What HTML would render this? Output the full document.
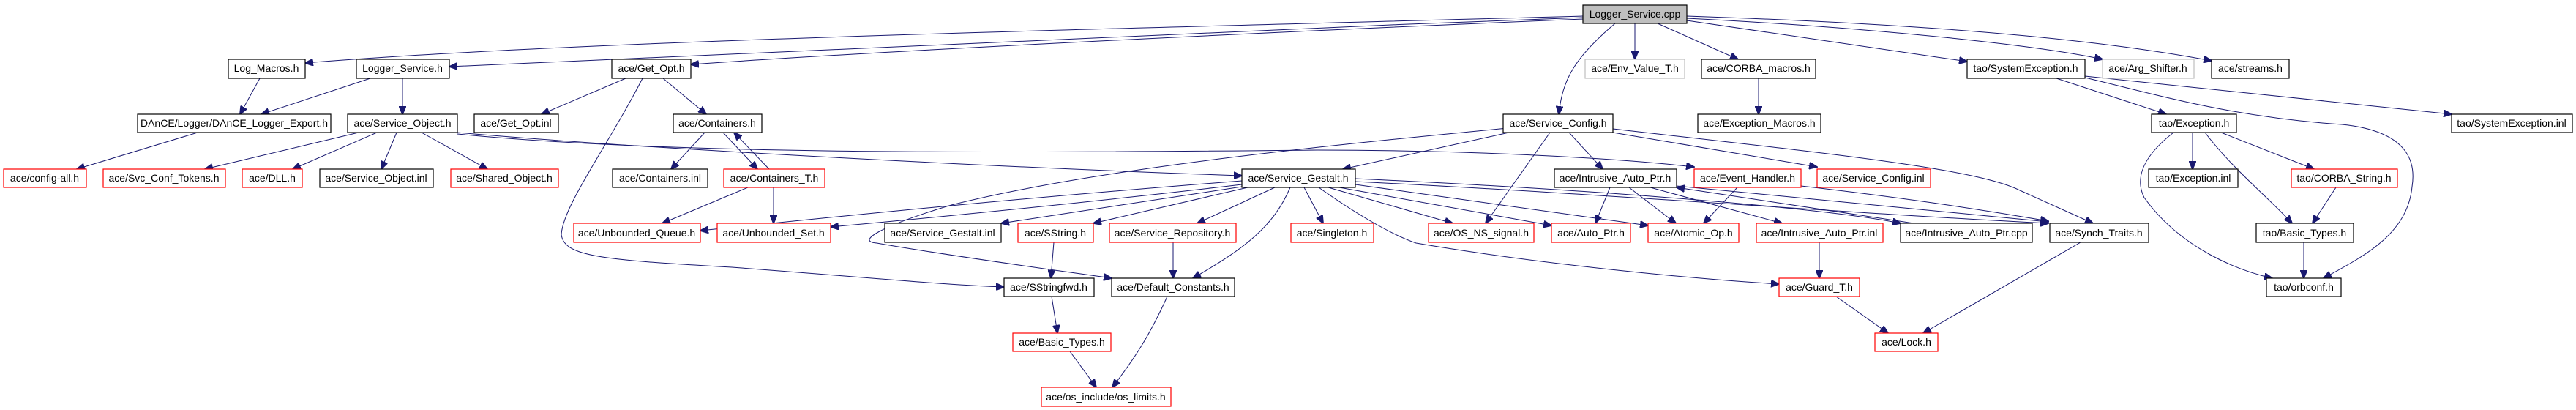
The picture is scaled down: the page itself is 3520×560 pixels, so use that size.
<!DOCTYPE html>
<html><head><meta charset="utf-8"><style>
html,body{margin:0;padding:0;background:#fff;}
svg{display:block;}
text{font-family:"Liberation Sans",sans-serif;font-size:14px;text-anchor:middle;fill:#000;}
rect{fill:#fff;stroke-width:1.2;}
.b{stroke:#000;} .r{stroke:#f00;} .g{stroke:#bfbfbf;}
path{fill:none;stroke:#191970;stroke-width:1;}
</style></head><body>
<svg width="3520" height="560" viewBox="0 0 3520 560" xmlns="http://www.w3.org/2000/svg">
<defs><marker id="a" markerUnits="userSpaceOnUse" markerWidth="12" markerHeight="10" refX="11" refY="5" orient="auto"><path d="M0,0 L12,5 L0,10 z" style="fill:#191970;stroke:#191970"/></marker></defs>
<g marker-end="url(#a)">
<!-- from cpp -->
<path d="M2163,22 C1500,40 800,55 417,86"/>
<path d="M2163,24 C1600,45 1000,70 614,91"/>
<path d="M2163,26 C1700,45 1200,70 944,88"/>
<path d="M2207,32 C2150,80 2135,110 2130,156"/>
<path d="M2234,32 L2234,81"/>
<path d="M2265,32 L2375,81"/>
<path d="M2305,28 L2688,84"/>
<path d="M2305,25 C2600,40 2800,65 2873,81"/>
<path d="M2305,22 C2700,35 2900,60 3022,83"/>
<!-- Log_Macros / Logger_Service -->
<path d="M355,107 L328,156"/>
<path d="M506,107 L357,156"/>
<path d="M550,107 L550,156"/>
<!-- Get_Opt -->
<path d="M855,107 L740,156"/>
<path d="M906,107 L965,156"/>
<path d="M878,107 C830,200 770,280 767,320 C770,350 820,355 1000,365 C1200,380 1300,390 1372,392"/>
<!-- DAnCE -->
<path d="M270,181 L105,231"/>
<!-- Service_Object -->
<path d="M490,181 L280,231"/>
<path d="M515,181 L400,231"/>
<path d="M542,181 L521,231"/>
<path d="M576,181 L666,231"/>
<path d="M625,181 C900,205 1400,230 1697,240"/>
<path d="M625,183 C900,210 1300,210 1800,205 C2000,205 2200,215 2315,228"/>
<!-- Containers -->
<path d="M963,181 L917,231"/>
<path d="M988,181 L1035,231"/>
<path d="M1051,231 L1003,181"/>
<path d="M1022,256 L905,305"/>
<path d="M1057,256 L1057,305"/>
<!-- Service_Config -->
<path d="M2060,175 C1800,200 1500,230 1300,280 C1200,310 1170,330 1198,332 C1300,350 1450,370 1519,380"/>
<path d="M2062,181 L1835,231"/>
<path d="M2118,181 L2030,305"/>
<path d="M2144,181 L2190,231"/>
<path d="M2204,181 L2483,228"/>
<path d="M2204,176 C2500,210 2700,230 2760,260 L2860,305"/>
<!-- Service_Gestalt -->
<path d="M1697,247 C1400,270 1200,290 957,315"/>
<path d="M1697,252 C1500,275 1300,295 1135,310"/>
<path d="M1697,255 L1368,305"/>
<path d="M1705,256 L1494,305"/>
<path d="M1742,256 L1636,305"/>
<path d="M1763,256 C1740,310 1700,340 1630,380"/>
<path d="M1782,256 L1808,305"/>
<path d="M1815,256 L1985,305"/>
<path d="M1830,256 L2120,308"/>
<path d="M1852,252 L2252,308"/>
<path d="M1802,256 C1850,290 1900,320 1935,332 C2100,360 2300,380 2431,388"/>
<path d="M1852,248 C2200,265 2500,290 2799,305"/>
<path d="M1852,244 C2200,260 2500,285 2597,305"/>
<!-- Intrusive_Auto_Ptr.h -->
<path d="M2200,256 L2180,305"/>
<path d="M2226,256 L2290,305"/>
<path d="M2255,256 L2435,305"/>
<path d="M2615,305 L2291,256"/>
<path d="M2291,254 L2799,303"/>
<path d="M2374,256 L2328,305"/>
<path d="M2461,254 C2600,270 2700,285 2799,302"/>
<!-- lower -->
<path d="M1603,331 L1603,380"/>
<path d="M1440,331 L1436,380"/>
<path d="M1437,405 L1445,455"/>
<path d="M1462,480 L1498,529"/>
<path d="M1595,405 C1570,460 1550,490 1520,529"/>
<path d="M2486,331 L2486,380"/>
<path d="M2509,405 L2580,455"/>
<path d="M2843,331 L2628,455"/>
<path d="M2403,107 L2403,156"/>
<!-- tao -->
<path d="M2810,107 L2960,156"/>
<path d="M2849,104 L3350,156"/>
<path d="M2849,106 C2950,130 3050,160 3200,170 C3300,180 3300,230 3296,255 C3290,320 3230,350 3175,380"/>
<path d="M2996,181 L2996,231"/>
<path d="M3035,181 L3162,231"/>
<path d="M3013,181 C3050,230 3100,270 3132,305"/>
<path d="M2970,181 C2920,220 2920,250 2930,270 C2980,340 3060,370 3105,380"/>
<path d="M3192,256 L3160,305"/>
<path d="M3148,331 L3148,380"/>
</g>
<!-- nodes -->
<rect x="2163" y="7" width="142" height="25" style="fill:#bfbfbf;stroke:#000"/><text x="2234" y="24">Logger_Service.cpp</text>
<rect class="b" x="312" y="81" width="105" height="26"/><text x="364" y="98">Log_Macros.h</text>
<rect class="b" x="487" y="81" width="127" height="26"/><text x="550" y="98">Logger_Service.h</text>
<rect class="b" x="836" y="81" width="108" height="26"/><text x="890" y="98">ace/Get_Opt.h</text>
<rect class="g" x="2166" y="81" width="136" height="26"/><text x="2234" y="98">ace/Env_Value_T.h</text>
<rect class="b" x="2325" y="81" width="156" height="26"/><text x="2403" y="98">ace/CORBA_macros.h</text>
<rect class="b" x="2688" y="81" width="161" height="26"/><text x="2768" y="98">tao/SystemException.h</text>
<rect class="g" x="2873" y="81" width="125" height="26"/><text x="2935" y="98">ace/Arg_Shifter.h</text>
<rect class="b" x="3022" y="81" width="106" height="26"/><text x="3075" y="98">ace/streams.h</text>

<rect class="b" x="188" y="156" width="264" height="25"/><text x="320" y="173">DAnCE/Logger/DAnCE_Logger_Export.h</text>
<rect class="b" x="475" y="156" width="150" height="25"/><text x="550" y="173">ace/Service_Object.h</text>
<rect class="b" x="648" y="156" width="115" height="25"/><text x="705" y="173">ace/Get_Opt.inl</text>
<rect class="b" x="920" y="156" width="121" height="25"/><text x="980" y="173">ace/Containers.h</text>
<rect class="b" x="2054" y="156" width="150" height="25"/><text x="2129" y="173">ace/Service_Config.h</text>
<rect class="b" x="2320" y="156" width="168" height="25"/><text x="2404" y="173">ace/Exception_Macros.h</text>
<rect class="b" x="2940" y="156" width="116" height="25"/><text x="2998" y="173">tao/Exception.h</text>
<rect class="b" x="3350" y="156" width="165" height="25"/><text x="3432" y="173">tao/SystemException.inl</text>

<rect class="r" x="5" y="231" width="113" height="25"/><text x="61" y="248">ace/config-all.h</text>
<rect class="r" x="141" y="231" width="167" height="25"/><text x="224" y="248">ace/Svc_Conf_Tokens.h</text>
<rect class="r" x="331" y="231" width="82" height="25"/><text x="372" y="248">ace/DLL.h</text>
<rect class="b" x="437" y="231" width="155" height="25"/><text x="514" y="248">ace/Service_Object.inl</text>
<rect class="r" x="616" y="231" width="147" height="25"/><text x="689" y="248">ace/Shared_Object.h</text>
<rect class="b" x="837" y="231" width="130" height="25"/><text x="902" y="248">ace/Containers.inl</text>
<rect class="r" x="989" y="231" width="138" height="25"/><text x="1058" y="248">ace/Containers_T.h</text>
<rect class="b" x="1697" y="231" width="155" height="25"/><text x="1774" y="248">ace/Service_Gestalt.h</text>
<rect class="b" x="2124" y="231" width="167" height="25"/><text x="2207" y="248">ace/Intrusive_Auto_Ptr.h</text>
<rect class="r" x="2315" y="231" width="146" height="25"/><text x="2388" y="248">ace/Event_Handler.h</text>
<rect class="r" x="2483" y="231" width="155" height="25"/><text x="2560" y="248">ace/Service_Config.inl</text>
<rect class="b" x="2936" y="231" width="122" height="25"/><text x="2997" y="248">tao/Exception.inl</text>
<rect class="r" x="3131" y="231" width="145" height="25"/><text x="3203" y="248">tao/CORBA_String.h</text>

<rect class="r" x="784" y="305" width="173" height="26"/><text x="870" y="323">ace/Unbounded_Queue.h</text>
<rect class="r" x="980" y="305" width="155" height="26"/><text x="1057" y="323">ace/Unbounded_Set.h</text>
<rect class="b" x="1209" y="305" width="159" height="26"/><text x="1288" y="323">ace/Service_Gestalt.inl</text>
<rect class="r" x="1391" y="305" width="103" height="26"/><text x="1442" y="323">ace/SString.h</text>
<rect class="r" x="1516" y="305" width="173" height="26"/><text x="1602" y="323">ace/Service_Repository.h</text>
<rect class="r" x="1764" y="305" width="113" height="26"/><text x="1820" y="323">ace/Singleton.h</text>
<rect class="r" x="1952" y="305" width="144" height="26"/><text x="2024" y="323">ace/OS_NS_signal.h</text>
<rect class="r" x="2120" y="305" width="108" height="26"/><text x="2174" y="323">ace/Auto_Ptr.h</text>
<rect class="r" x="2252" y="305" width="124" height="26"/><text x="2314" y="323">ace/Atomic_Op.h</text>
<rect class="r" x="2400" y="305" width="173" height="26"/><text x="2486" y="323">ace/Intrusive_Auto_Ptr.inl</text>
<rect class="b" x="2597" y="305" width="180" height="26"/><text x="2687" y="323">ace/Intrusive_Auto_Ptr.cpp</text>
<rect class="b" x="2801" y="305" width="135" height="26"/><text x="2868" y="323">ace/Synch_Traits.h</text>
<rect class="b" x="3083" y="305" width="133" height="26"/><text x="3149" y="323">tao/Basic_Types.h</text>

<rect class="b" x="1372" y="380" width="123" height="25"/><text x="1433" y="397">ace/SStringfwd.h</text>
<rect class="b" x="1519" y="380" width="168" height="25"/><text x="1603" y="397">ace/Default_Constants.h</text>
<rect class="r" x="2431" y="380" width="110" height="25"/><text x="2486" y="397">ace/Guard_T.h</text>
<rect class="b" x="3097" y="380" width="102" height="25"/><text x="3148" y="397">tao/orbconf.h</text>

<rect class="r" x="1384" y="455" width="134" height="25"/><text x="1451" y="472">ace/Basic_Types.h</text>
<rect class="r" x="2562" y="455" width="86" height="25"/><text x="2605" y="472">ace/Lock.h</text>

<rect class="r" x="1423" y="529" width="177" height="26"/><text x="1511" y="547">ace/os_include/os_limits.h</text>
</svg>
</body></html>
